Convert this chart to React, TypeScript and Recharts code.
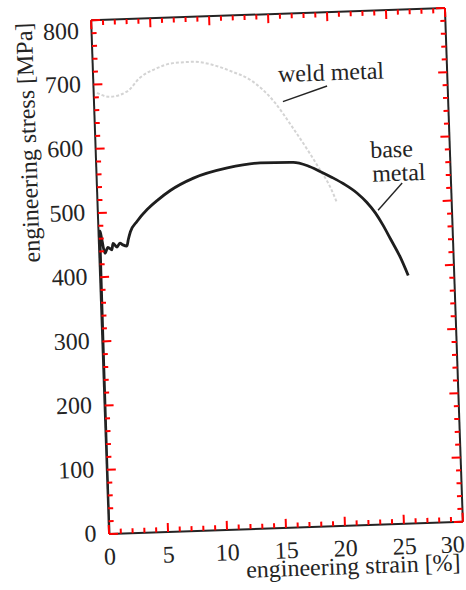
import { LineChart, Line, XAxis, YAxis, ReferenceLine, ReferenceDot } from 'recharts';

// base metal curve (dark)
const baseStrain = [0, 0.12, 0.26, 0.48, 0.75, 1.08, 1.19, 1.51, 1.78, 2.03, 2.36, 2.5, 2.7, 3.3, 4.2, 5.05, 6.2, 8.2, 11.1, 13.9, 16.7, 17.9, 18.9, 19.9, 20.9, 22.0, 22.8, 23.5, 24.1, 24.7, 25.5, 26.1];
const baseStress = [0, 472, 458, 437, 446, 442, 452, 446, 452, 449, 447, 457, 469, 485, 503, 516, 531, 549, 563, 569, 568, 562, 553, 543, 532, 517, 502, 485, 466, 444, 414, 386];

// weld metal curve (faint grey)
const weldStrain = [0.28, 1.36, 2.81, 3.96, 5.43, 6.8, 8.5, 10.19, 11.86, 13.28, 15.32, 16.62, 18.1, 18.94, 19.75, 20.3];
const weldStress = [687, 680, 687, 708, 722, 729, 730, 724, 712, 699, 662, 626, 582, 555, 528, 502];

const strainLabels = [0, 5, 10, 15, 20, 25, 30];
const stressLabels = [0, 100, 200, 300, 400, 500, 600, 700, 800];
const strainTicks = Array.from({ length: 31 }, (_, i) => i);
const stressTicks = Array.from({ length: 41 }, (_, i) => i * 20);

const baseData = baseStrain.map((s, i) => ({ strain: s, stress: baseStress[i] }));
const weldData = weldStrain.map((s, i) => ({ strain: s, stress: weldStress[i] }));

const FONT = '"Liberation Serif", "Times New Roman", serif';
const INK = '#242424';
const TICK = 'red';
const FS = 24;

const W = 466;
const H = 590;
const LEFT = 100;
const TOP = 14;
const RIGHT = W - 12;
const BOTTOM = H - 62;

const BottomTick = (props: any) => {
  const { x, payload } = props;
  const v = payload.value;
  const major = strainLabels.includes(v);
  return (
    <g>
      <line x1={x} x2={x} y1={BOTTOM} y2={BOTTOM - (major ? 9 : 5)} stroke={TICK} strokeWidth={2} />
      {major && (
        <text x={v === 30 ? x + 1 : x} y={BOTTOM + 30.5} textAnchor={v === 30 ? 'end' : 'middle'} fill={INK} fontSize={FS} fontFamily={FONT}>
          {v}
        </text>
      )}
    </g>
  );
};

const TopTick = (props: any) => {
  const { x, payload } = props;
  const major = strainLabels.includes(payload.value);
  return <line x1={x} x2={x} y1={TOP} y2={TOP + (major ? 9 : 5)} stroke={TICK} strokeWidth={2} />;
};

const LeftTick = (props: any) => {
  const { y, payload } = props;
  const v = payload.value;
  const major = stressLabels.includes(v);
  return (
    <g>
      <line x1={LEFT} x2={LEFT + (major ? 9 : 5)} y1={y} y2={y} stroke={TICK} strokeWidth={2} />
      {major && (
        <text x={LEFT - 12.5} y={y + (v === 800 ? 18 : 7)} textAnchor="end" fill={INK} fontSize={FS} fontFamily={FONT}>
          {v}
        </text>
      )}
    </g>
  );
};

const RightTick = (props: any) => {
  const { y, payload } = props;
  const major = stressLabels.includes(payload.value);
  return <line x1={RIGHT} x2={RIGHT - (major ? 9 : 5)} y1={y} y2={y} stroke={TICK} strokeWidth={2} />;
};

const textStyle = { fill: INK, fontSize: FS, fontFamily: FONT };

export default function App() {
  return (
    <div
      style={{
        position: 'absolute',
        left: 0,
        top: 0,
        width: W,
        height: H,
        background: '#fff',
        transform: 'rotate(-2deg)',
        transformOrigin: '277px 271px',
      }}
    >
      <LineChart width={W} height={H} margin={{ top: 13, right: 11, left: 0, bottom: 0 }}>
        <XAxis
          type="number"
          dataKey="strain"
          domain={[0, 30]}
          ticks={strainTicks}
          interval={0}
          tickLine={false}
          tick={<BottomTick />}
          axisLine={{ stroke: INK, strokeWidth: 2 }}
          height={62}
          allowDataOverflow
          label={() => (
            <text x={343} y={576.5} textAnchor="middle" {...textStyle}>
              engineering strain [%]
            </text>
          )}
        />
        <XAxis
          xAxisId="top"
          orientation="top"
          type="number"
          dataKey="strain"
          domain={[0, 30]}
          ticks={strainTicks}
          interval={0}
          tickLine={false}
          tick={<TopTick />}
          axisLine={{ stroke: INK, strokeWidth: 2 }}
          height={1}
          allowDataOverflow
        />
        <YAxis
          type="number"
          domain={[0, 800]}
          ticks={stressTicks}
          interval={0}
          tickLine={false}
          tick={<LeftTick />}
          axisLine={{ stroke: INK, strokeWidth: 2 }}
          width={LEFT}
          allowDataOverflow
          label={() => (
            <text x={40.5} y={134} textAnchor="middle" transform="rotate(-90 40.5 134)" {...textStyle}>
              engineering stress [MPa]
            </text>
          )}
        />
        <YAxis
          yAxisId="right"
          orientation="right"
          type="number"
          domain={[0, 800]}
          ticks={stressTicks}
          interval={0}
          tickLine={false}
          tick={<RightTick />}
          axisLine={{ stroke: INK, strokeWidth: 2 }}
          width={1}
          allowDataOverflow
        />
        <Line
          data={weldData}
          dataKey="stress"
          type="monotone"
          stroke="#d4d4d4"
          strokeWidth={2}
          strokeDasharray="3 2"
          dot={false}
          activeDot={false}
          isAnimationActive={false}
        />
        <Line
          data={baseData}
          dataKey="stress"
          type="monotone"
          stroke="#1e1e1e"
          strokeWidth={2.8}
          dot={false}
          activeDot={false}
          isAnimationActive={false}
        />
        <ReferenceLine segment={[{ x: 19.79, y: 685 }, { x: 16.0, y: 663 }]} stroke={INK} strokeWidth={1.4} ifOverflow="visible" />
        <ReferenceLine segment={[{ x: 25.86, y: 530 }, { x: 23.74, y: 489 }]} stroke={INK} strokeWidth={1.4} ifOverflow="visible" />
        <ReferenceDot x={15.67} y={707} r={0} ifOverflow="visible" label={{ value: 'weld metal', position: 'right', offset: 0, ...textStyle }} />
        <ReferenceDot x={23.25} y={584} r={0} ifOverflow="visible" label={{ value: 'base', position: 'right', offset: 0, ...textStyle }} />
        <ReferenceDot x={23.35} y={547} r={0} ifOverflow="visible" label={{ value: 'metal', position: 'right', offset: 0, ...textStyle }} />
      </LineChart>
    </div>
  );
}
